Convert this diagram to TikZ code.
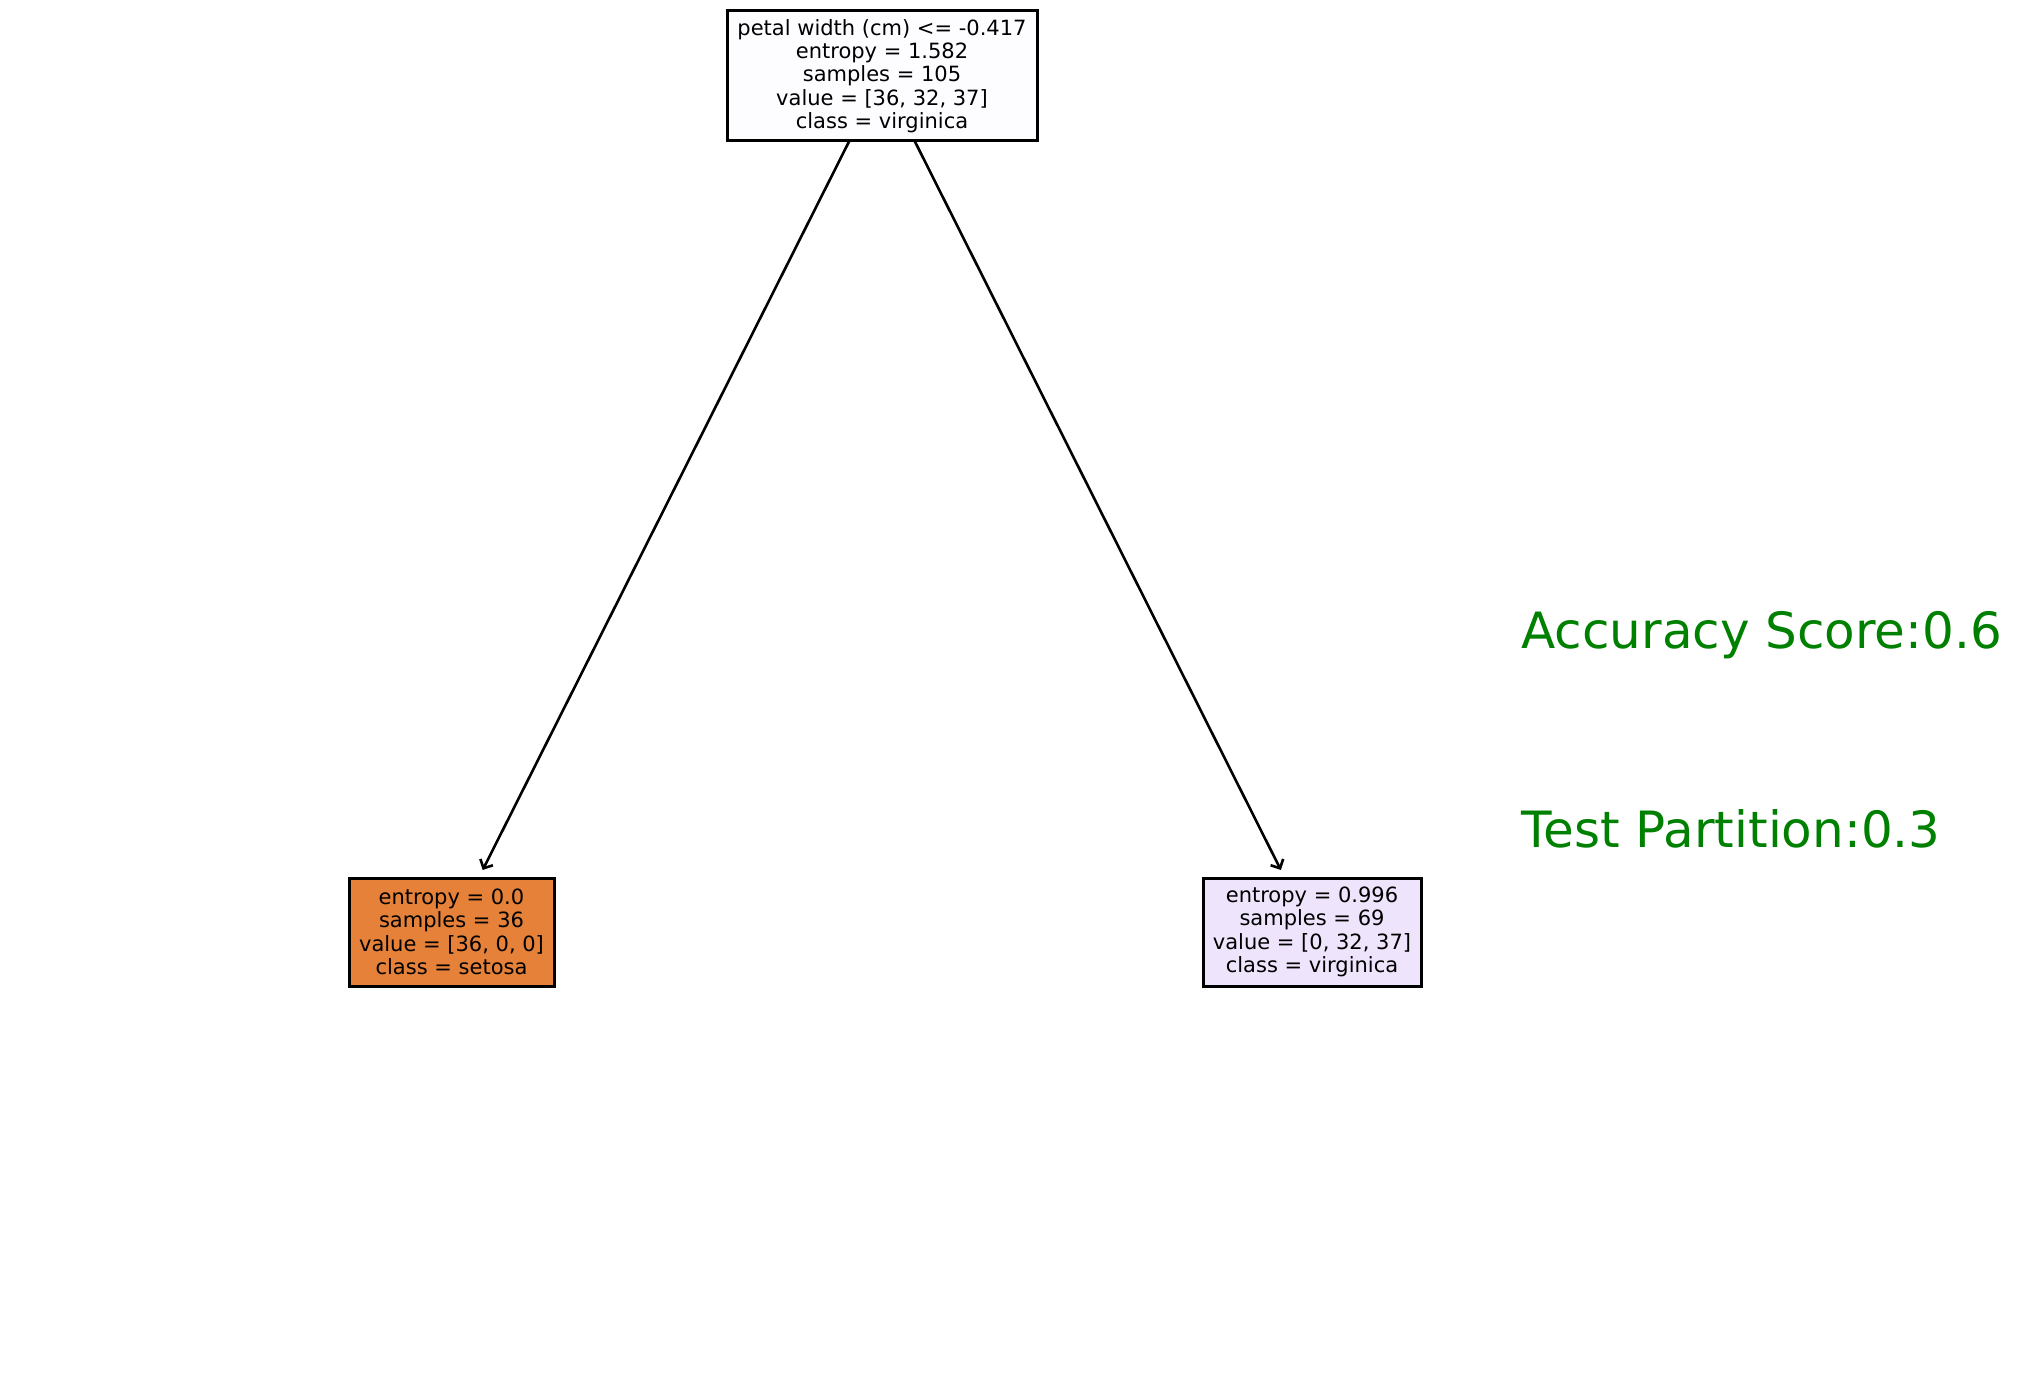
\documentclass[tikz,border=0pt]{standalone}
\usepackage{fontspec}
\setmainfont{DejaVu Sans}
\usetikzlibrary{arrows.meta}
\definecolor{rootfill}{RGB}{253,252,255}
\definecolor{setosafill}{RGB}{229,129,57}
\definecolor{virgfill}{RGB}{238,228,251}
\definecolor{mplgreen}{RGB}{0,128,0}
\tikzset{
  treebox/.style={draw=black, line width=1.5pt, align=center, inner sep=0pt,
    font=\fontsize{10.5pt}{11.65pt}\selectfont},
  edge/.style={line width=1.3pt, -{Straight Barb[length=3.5pt,width=7pt]},
    shorten <=36.4pt, shorten >=34.7pt},
  metric/.style={anchor=base west, text=mplgreen, inner sep=0pt,
    font=\fontsize{25pt}{30pt}\selectfont}
}
\begin{document}
\begin{tikzpicture}[x=0.5pt,y=-0.5pt]
\useasboundingbox (0,0) rectangle (2020,1379);
\node[treebox, fill=rootfill, minimum width=155pt, minimum height=65pt] (root) at (882,76)
  {petal width (cm) <= -0.417\\entropy = 1.582\\samples = 105\\value = [36, 32, 37]\\class = virginica};
\node[treebox, fill=setosafill, minimum width=102.5pt, minimum height=54pt] (left) at (451.5,932)
  {entropy = 0.0\\samples = 36\\value = [36, 0, 0]\\class = setosa};
\node[treebox, fill=virgfill, minimum width=109pt, minimum height=54pt] (right) at (1312,932)
  {entropy = 0.996\\samples = 69\\value = [0, 32, 37]\\class = virginica};
\draw[edge] (root.center) -- (left.center);
\draw[edge] (root.center) -- (right.center);
\node[metric] (acc) at (1521,649) {Accuracy Score:0.6};
\node[metric] (part) at (1521,848) {Test Partition:0.3};
\end{tikzpicture}
\end{document}
